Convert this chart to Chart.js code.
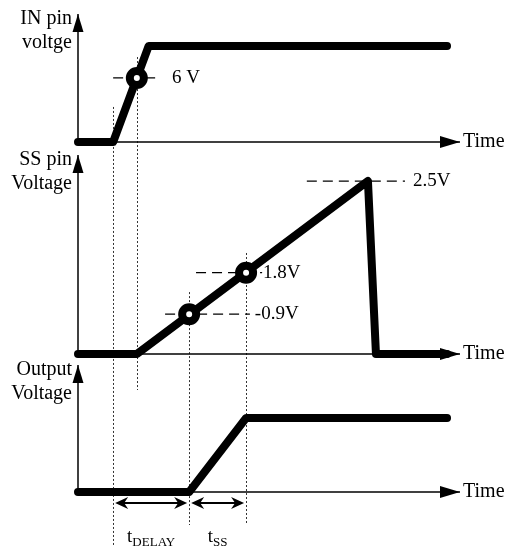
<!DOCTYPE html>
<html>
<head>
<meta charset="utf-8">
<script src="https://cdn.jsdelivr.net/npm/chart.js@4.4.1/dist/chart.umd.min.js"></script>
<style>
  html, body { margin: 0; padding: 0; background: #fff; }
  canvas { display: block; }
</style>
</head>
<body>
<canvas id="timing" width="505" height="547"></canvas>
<script>
// time runs 0..100 (arbitrary units) along each "Time" arrow,
// levels are normalised to each signal's final level
const inTime = [0, 9.2, 18.5, 96.6];
const inLevel = [0, 0, 1, 1];
const ssTime = [0, 15.4, 75.9, 78.0, 96.6];
const ssLevel = [0, 0, 1, 0, 0];
const outTime = [0, 29.1, 44.0, 96.6];
const outLevel = [0, 0, 1, 1];

// threshold crossings marked with a ring
const inMarkTime = [15.4];
const inMarkLevel = [0.667];
const ssMarkTime = [29.1, 44.0];
const ssMarkLevel = [0.23, 0.47];
const thresholdLabels = ["6 V", "-0.9V", "1.8V", "2.5V"];

// dotted reference times and the two intervals between them
const refTimes = [9.2, 15.4, 29.1, 44.0];
const intervalNames = [["t", "DELAY"], ["t", "SS"]];

const FONT = '"Liberation Serif", "Times New Roman", serif';

function series(times, levels) {
  return times.map((t, i) => ({ x: t, y: levels[i] }));
}

// one panel per signal, stacked top to bottom
const panels = [
  { id: "yIn", min: -0.0625, max: 1.479, weight: 148, top: 1.333, title: ["IN pin", "voltge"] },
  { id: "ySs", min: -0.0231, max: 1.191, weight: 210, top: 1.15, title: ["SS pin", "Voltage"] },
  { id: "yOut", min: -0.743, max: 1.811, weight: 189, top: 1.716, title: ["Output", "Voltage"] }
];

// dashed guide lines to the threshold labels
const guides = [
  { axis: "yIn", level: inMarkLevel[0], from: 9.2, to: 21.5, labelAt: 24.6 },
  { axis: "ySs", level: ssMarkLevel[0], from: 22.8, to: 45.0, labelAt: 46.3 },
  { axis: "ySs", level: ssMarkLevel[1], from: 30.9, to: 48.2, labelAt: 48.4 },
  { axis: "ySs", level: ssLevel[2], from: 59.9, to: 85.6, labelAt: 87.7 }
];

// where each dotted reference line starts and stops
const refSpans = [
  { from: ["yIn", 0.365], to: ["yOut", -0.743] },
  { from: ["yIn", 0.885], to: ["yOut", 1.378] },
  { from: ["ySs", 0.358], to: ["yOut", -0.446] },
  { from: ["ySs", 0.584], to: ["yOut", -0.446] }
];

const datasets = [];

// signal traces
[["yIn", inTime, inLevel], ["ySs", ssTime, ssLevel], ["yOut", outTime, outLevel]].forEach(([axis, t, v]) => {
  datasets.push({
    data: series(t, v),
    yAxisID: axis,
    borderColor: "#000",
    borderWidth: 8,
    borderCapStyle: "round",
    borderJoinStyle: "round",
    pointRadius: 0,
    order: 1
  });
});

// axes
panels.forEach(p => {
  datasets.push({ data: [{ x: 0, y: 0 }, { x: 0, y: p.top }], yAxisID: p.id,
    borderColor: "#000", borderWidth: 1.5, pointRadius: 0, order: 3 });
  datasets.push({ data: [{ x: 0, y: 0 }, { x: 100, y: 0 }], yAxisID: p.id,
    borderColor: "#000", borderWidth: 1.5, pointRadius: 0, order: 3 });
});

// guides
guides.forEach(g => {
  datasets.push({ data: [{ x: g.from, y: g.level }, { x: g.to, y: g.level }], yAxisID: g.axis,
    borderColor: "#000", borderWidth: 1.3, borderDash: [10, 6], pointRadius: 0, order: 2 });
});

// rings
[["yIn", inMarkTime, inMarkLevel], ["ySs", ssMarkTime, ssMarkLevel]].forEach(([axis, t, v]) => {
  datasets.push({
    data: series(t, v),
    yAxisID: axis,
    showLine: false,
    pointRadius: 7,
    pointBorderWidth: 8,
    pointBorderColor: "#000",
    pointBackgroundColor: "#fff",
    order: 0
  });
});

// notch > 0 gives the swept-back head used on the interval arrows
function arrowHead(ctx, x, y, angle, len, half, notch) {
  ctx.save();
  ctx.translate(x, y);
  ctx.rotate(angle);
  ctx.beginPath();
  ctx.moveTo(0, 0);
  ctx.lineTo(-len, -half);
  if (notch) ctx.lineTo(-len + notch, 0);
  ctx.lineTo(-len, half);
  ctx.closePath();
  ctx.fill();
  ctx.restore();
}

const diagram = {
  id: "diagram",
  beforeDatasetsDraw(chart) {
    const ctx = chart.ctx;
    const x = chart.scales.x;
    ctx.save();
    ctx.strokeStyle = "#333";
    ctx.lineWidth = 1;
    ctx.setLineDash([2, 2]);
    refTimes.forEach((t, i) => {
      const s = refSpans[i];
      const px = Math.round(x.getPixelForValue(t)) + 0.5;
      ctx.beginPath();
      ctx.moveTo(px, chart.scales[s.from[0]].getPixelForValue(s.from[1]));
      ctx.lineTo(px, chart.scales[s.to[0]].getPixelForValue(s.to[1]));
      ctx.stroke();
    });
    ctx.restore();
  },
  afterDatasetsDraw(chart) {
    const ctx = chart.ctx;
    const x = chart.scales.x;
    const x0 = x.getPixelForValue(0);
    const xEnd = x.getPixelForValue(100);
    ctx.save();
    ctx.fillStyle = "#000";
    ctx.strokeStyle = "#000";
    ctx.textBaseline = "middle";

    panels.forEach(p => {
      const y = chart.scales[p.id];
      const base = y.getPixelForValue(0);
      const tip = y.getPixelForValue(p.top);
      arrowHead(ctx, x0, tip, -Math.PI / 2, 18, 5.5);
      arrowHead(ctx, xEnd, base, 0, 20, 6);
      ctx.font = "20px " + FONT;
      ctx.textAlign = "left";
      ctx.fillText("Time", xEnd + 3, base);
      ctx.textAlign = "right";
      ctx.fillText(p.title[0], x0 - 6, tip + 5);
      ctx.fillText(p.title[1], x0 - 6, tip + 29);
    });

    ctx.font = "19px " + FONT;
    ctx.textAlign = "left";
    guides.forEach((g, i) => {
      ctx.fillText(thresholdLabels[i], x.getPixelForValue(g.labelAt), chart.scales[g.axis].getPixelForValue(g.level));
    });

    // interval arrows under the output panel
    const ay = chart.scales.yOut.getPixelForValue(-0.149);
    [[refTimes[0], refTimes[2]], [refTimes[2], refTimes[3]]].forEach(([a, b], i) => {
      const xa = x.getPixelForValue(a) + 2;
      const xb = x.getPixelForValue(b) - 2;
      ctx.lineWidth = 2;
      ctx.beginPath();
      ctx.moveTo(xa + 6, ay);
      ctx.lineTo(xb - 6, ay);
      ctx.stroke();
      arrowHead(ctx, xa, ay, Math.PI, 13, 6, 4);
      arrowHead(ctx, xb, ay, 0, 13, 6, 4);

      const [main, sub] = intervalNames[i];
      ctx.font = "19px " + FONT;
      const w1 = ctx.measureText(main).width;
      ctx.font = "13px " + FONT;
      const w2 = ctx.measureText(sub).width;
      const start = (x.getPixelForValue(a) + x.getPixelForValue(b)) / 2 - (w1 + w2) / 2;
      ctx.textBaseline = "alphabetic";
      ctx.font = "19px " + FONT;
      ctx.fillText(main, start, ay + 39);
      ctx.font = "13px " + FONT;
      ctx.fillText(sub, start + w1, ay + 43);
    });
    ctx.restore();
  }
};

const scales = { x: { type: "linear", min: 0, max: 100, display: false } };
panels.forEach((p, i) => {
  scales[p.id] = {
    type: "linear",
    position: "left",
    stack: "panels",
    stackWeight: p.weight,
    weight: panels.length - i,
    min: p.min,
    max: p.max,
    display: false
  };
});

new Chart(document.getElementById("timing"), {
  type: "line",
  data: { datasets },
  options: {
    responsive: false,
    devicePixelRatio: 1,
    animation: false,
    layout: { autoPadding: false, padding: { left: 78, right: 45, top: 0, bottom: 0 } },
    elements: { line: { tension: 0 } },
    datasets: { line: { clip: false } },
    plugins: { legend: { display: false }, tooltip: { enabled: false } },
    scales
  },
  plugins: [diagram]
});
</script>
</body>
</html>
